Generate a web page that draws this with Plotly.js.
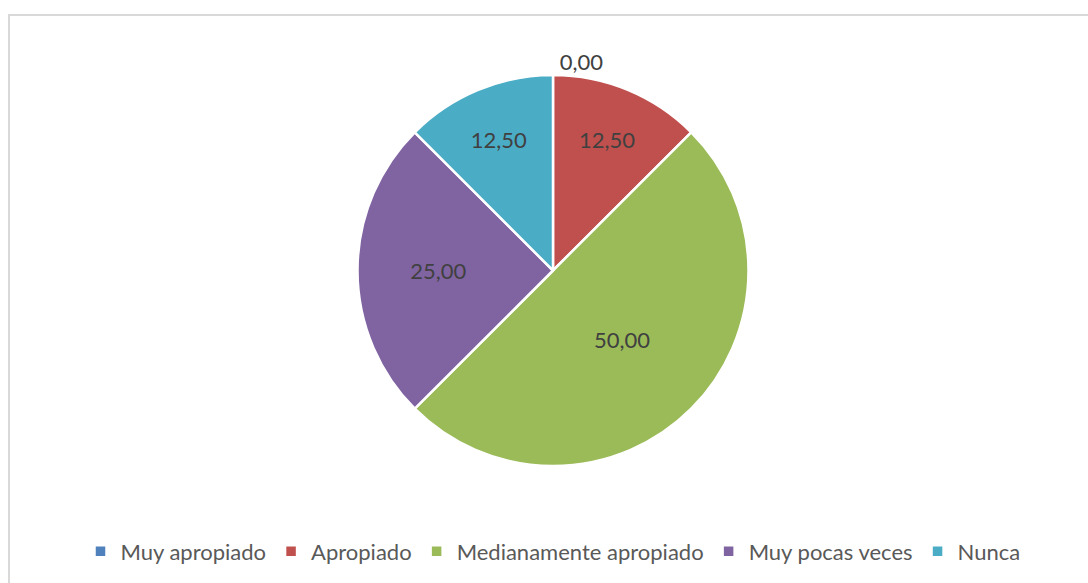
<!DOCTYPE html>
<html>
<head>
<meta charset="utf-8">
<script src="https://cdn.plot.ly/plotly-3.0.1.min.js"></script>
<style>
body { margin: 0; background: #fff; }
#plotArea { width: 1088px; height: 583px; }
#frame { position: absolute; left: 8px; top: 14px; width: 1100px; height: 600px;
  border: 2px solid #d9d9d9; pointer-events: none; }
</style>
</head>
<body>
<div id="plotArea"></div>
<div id="frame"></div>
<script>
var categories = ["Muy apropiado", "Apropiado", "Medianamente apropiado", "Muy pocas veces", "Nunca"];
var percentages = [0.00, 12.50, 50.00, 25.00, 12.50];
var sliceColors = ["#4F81BD", "#C0504D", "#9BBB59", "#8064A2", "#4BACC6"];

var trace = {
    labels: categories,
    values: percentages,
    type: "pie",
    sort: false,
    direction: "clockwise",
    rotation: 0,
    marker: {colors: sliceColors, line: {color: "#ffffff", width: 2.5}},
    texttemplate: "%{value:.2f}",
    textposition: ["outside", "inside", "inside", "inside", "inside"],
    insidetextorientation: "horizontal",
    textfont: {family: "Lato, 'Open Sans', sans-serif", size: 22, color: "#404040"},
    hoverinfo: "label+value"
};

var layout = {
    width: 1088,
    height: 583,
    separators: ",.",
    margin: {l: 18, r: 0, t: 75, b: 117},
    showlegend: true,
    legend: {
        orientation: "h",
        x: 0.5,
        xanchor: "center",
        y: -0.165,
        yanchor: "top",
        font: {family: "Lato, 'Open Sans', sans-serif", size: 22, color: "#595959"},
        traceorder: "normal"
    },
    paper_bgcolor: "#ffffff"
};

Plotly.newPlot("plotArea", [trace], layout, {displayModeBar: false});
</script>
</body>
</html>
